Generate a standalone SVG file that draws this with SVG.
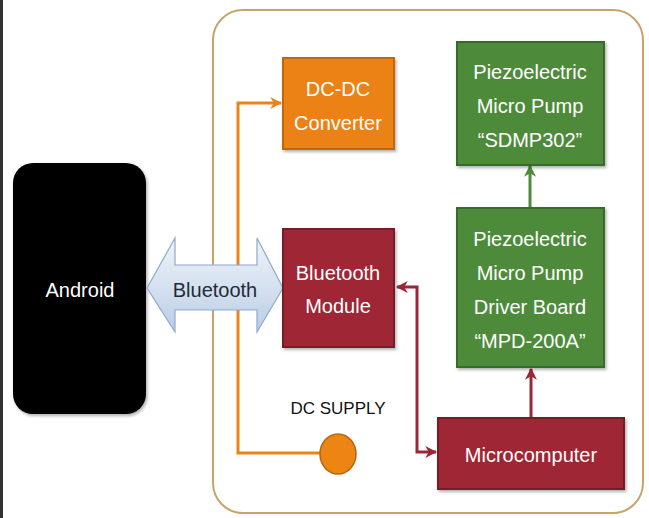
<svg xmlns="http://www.w3.org/2000/svg" width="649" height="518" viewBox="0 0 649 518">
<defs>
<linearGradient id="bt" x1="0" y1="0" x2="0" y2="1">
<stop offset="0" stop-color="#eef3f9"/>
<stop offset="0.5" stop-color="#d6e2f0"/>
<stop offset="1" stop-color="#b8cce4"/>
</linearGradient>
<filter id="sh" x="-10%" y="-10%" width="125%" height="125%">
<feDropShadow dx="1.5" dy="2" stdDeviation="1.5" flood-color="#000" flood-opacity="0.3"/>
</filter>
<marker id="ao" viewBox="0 0 10 10" refX="9" refY="5" markerWidth="4" markerHeight="4" orient="auto-start-reverse" markerUnits="strokeWidth">
<path d="M0,0 L10,5 L0,10 L3,5 z" fill="#e8841a"/>
</marker>
<marker id="ar" viewBox="0 0 10 10" refX="9" refY="5" markerWidth="4" markerHeight="4" orient="auto-start-reverse" markerUnits="strokeWidth">
<path d="M0,0 L10,5 L0,10 L3,5 z" fill="#9b2636"/>
</marker>
<marker id="ag" viewBox="0 0 10 10" refX="9" refY="5" markerWidth="4" markerHeight="4" orient="auto-start-reverse" markerUnits="strokeWidth">
<path d="M0,0 L10,5 L0,10 L3,5 z" fill="#4e8b3a"/>
</marker>
</defs>
<style>
text{font-family:"Liberation Sans",Arial,sans-serif;font-size:20px;text-anchor:middle}
.w{fill:#ffffff}
.orange{fill:#ec8114;stroke:#c2660b;stroke-width:2}
.red{fill:#9e2636;stroke:#751a27;stroke-width:2}
.green{fill:#4e8b3a;stroke:#386a29;stroke-width:2}
.cn{fill:none;stroke-width:3}
</style>
<rect x="0" y="0" width="3" height="518" fill="#333"/>
<rect id="container" x="213" y="10" width="430" height="503" rx="30" ry="30" fill="none" stroke="#c9a36c" stroke-width="2"/>

<g id="connectors">
<path class="cn" d="M338,453 L238,453 L238,103 L281,103" stroke="#e8841a" marker-end="url(#ao)"/>
<path class="cn" d="M397,287 L417,287 L417,452 L436,452" stroke="#9b2636" marker-start="url(#ar)" marker-end="url(#ar)"/>
<path class="cn" d="M531,417 L531,369" stroke="#9b2636" marker-end="url(#ar)"/>
<path class="cn" d="M530,207 L530,166" stroke="#4e8b3a" marker-end="url(#ag)"/>
</g>

<g id="android">
<rect x="13" y="163" width="133" height="251" rx="20" ry="20" fill="#000" filter="url(#sh)"/>
<text x="80" y="297" class="w">Android</text>
</g>

<g id="bluetooth">
<path d="M147,288 L175,238 L175,265 L257,265 L257,238 L283,288 L257,332 L257,310 L175,310 L175,332 Z" fill="url(#bt)" stroke="#8eaacb" stroke-width="1.2"/>
<text x="215" y="297" fill="#1f2b3a">Bluetooth</text>
</g>

<g id="dcdc">
<rect x="283" y="58" width="111" height="91" class="orange" filter="url(#sh)"/>
<text x="338" y="96" class="w">DC-DC</text>
<text x="338" y="130" class="w">Converter</text>
</g>

<g id="btmodule">
<rect x="283" y="229" width="111" height="118" class="red" filter="url(#sh)"/>
<text x="338" y="280" class="w">Bluetooth</text>
<text x="338" y="313" class="w">Module</text>
</g>

<g id="dcsupply">
<text x="338" y="414" fill="#111" style="font-size:17px">DC SUPPLY</text>
<ellipse cx="338" cy="454" rx="18" ry="20" fill="#ec8514" stroke="#b8650a" stroke-width="1.5"/>
</g>

<g id="pump">
<rect x="457" y="42" width="147" height="123" class="green" filter="url(#sh)"/>
<text x="530" y="79" class="w">Piezoelectric</text>
<text x="530" y="113" class="w">Micro Pump</text>
<text x="530" y="147" class="w">“SDMP302”</text>
</g>

<g id="driver">
<rect x="457" y="208" width="147" height="159" class="green" filter="url(#sh)"/>
<text x="530" y="246" class="w">Piezoelectric</text>
<text x="530" y="280" class="w">Micro Pump</text>
<text x="530" y="314" class="w">Driver Board</text>
<text x="530" y="348" class="w">“MPD-200A”</text>
</g>

<g id="micro">
<rect x="438" y="418" width="186" height="71" class="red" filter="url(#sh)"/>
<text x="531" y="462" class="w">Microcomputer</text>
</g>
</svg>
